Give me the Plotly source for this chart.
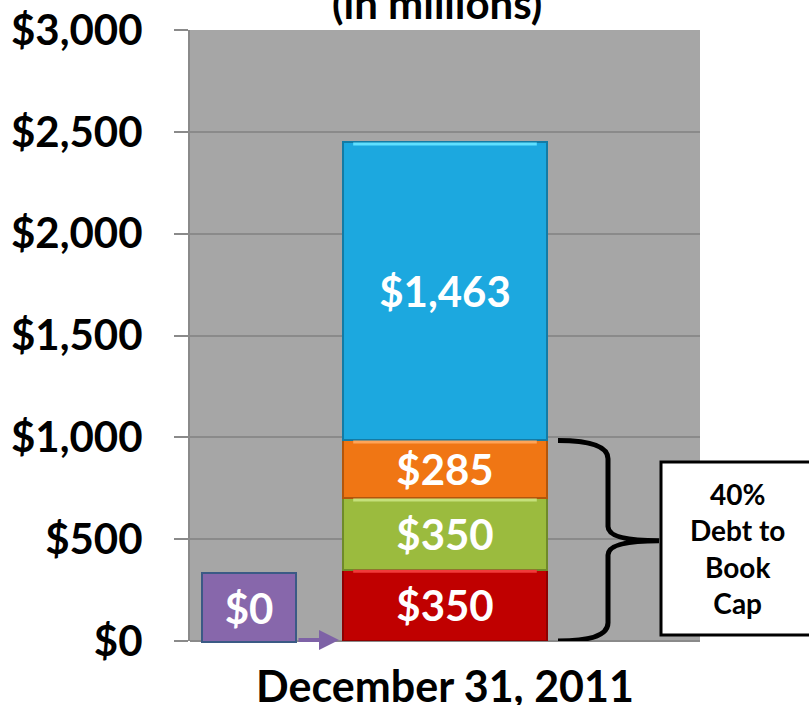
import plotly.graph_objects as go

# ---- data ----
category = ["December 31, 2011"]
segment_names = ["Red", "Green", "Orange", "Blue"]
segment_values = [350, 350, 285, 1463]
segment_colors = ["#c00000", "#9bbb3e", "#f07614", "#1ca8df"]
segment_lines = ["#8e0000", "#6f8a2a", "#b2560c", "#137ba5"]
segment_highlights = ["#f03a3a", "#c5e07a", "#ffa457", "#5fe0ff"]
y_tickvals = [0, 500, 1000, 1500, 2000, 2500, 3000]
y_ticktext = ["$0", "$500", "$1,000", "$1,500", "$2,000", "$2,500", "$3,000"]
callout_value = 0
bracket_note = "40%<br>Debt to<br>Book<br>Cap"
title_text = "(in millions)"

FONT = "Lato"
W, H = 809, 705
ML, MR, MT, MB = 190, 109, 30, 64
PW = W - ML - MR
PH = H - MT - MB


def px_x(p):
    return (p - ML) / PW


def px_y(p):
    return (H - MB - p) / PH


BAR_W = 0.4
fig = go.Figure()
for name, v, c, lc in zip(segment_names, segment_values, segment_colors, segment_lines):
    fig.add_trace(go.Bar(
        x=[0], y=[v], name=name, width=BAR_W,
        marker=dict(color=c, line=dict(color=lc, width=2)),
        texttemplate="$%{y:,.0f}", textposition="inside",
        insidetextanchor="middle",
        textfont=dict(family=FONT, size=42, color="white", weight=700),
        hoverinfo="skip",
    ))

shapes = []
# subtle bevel highlight on top edge of each segment
base = 0
for v, hc in zip(segment_values, segment_highlights):
    top = base + v
    shapes.append(dict(type="line", xref="x", yref="y", layer="above",
                       x0=-BAR_W / 2 + 0.02, x1=BAR_W / 2 - 0.02, y0=top - 8, y1=top - 8,
                       line=dict(color=hc, width=3)))
    base = top

debt_top = sum(segment_values[:3])

# bracket
yt, yb = debt_top, 0
ym = (yt + yb) / 2
xa, xb, xc = px_x(558), px_x(608), px_x(659)
path = (f"M {xa},{yt} Q {xb},{yt} {xb},{yt-90} L {xb},{ym+70} Q {xb},{ym} {xc},{ym} "
        f"Q {xb},{ym} {xb},{ym-70} L {xb},{yb+90} Q {xb},{yb} {xa},{yb}")
shapes.append(dict(type="path", path=path, xref="paper", yref="y",
                   line=dict(color="black", width=5)))
# text box
shapes.append(dict(type="rect", xref="paper", yref="paper",
                   x0=px_x(661), x1=px_x(830), y0=px_y(635), y1=px_y(462),
                   line=dict(color="black", width=3), fillcolor="white"))

annotations = [
    dict(text=bracket_note, xref="paper", yref="paper", x=px_x(737), y=px_y(548),
         showarrow=False, font=dict(family=FONT, size=28, color="black", weight=700),
         align="center", xanchor="center", yanchor="middle"),
    dict(text=f"${callout_value}", xref="paper", yref="paper",
         x=px_x(249), y=px_y(607.5), showarrow=False,
         width=92, height=67, borderpad=0, borderwidth=2,
         bgcolor="#8767ab", bordercolor="#3b5a85",
         font=dict(family=FONT, size=42, color="white", weight=700),
         valign="middle", xanchor="center", yanchor="middle"),
    dict(text="", xref="paper", yref="paper", x=px_x(339), y=px_y(640),
         ax=-42, ay=0, axref="pixel", ayref="pixel", showarrow=True,
         arrowhead=2, arrowsize=1, arrowwidth=4, arrowcolor="#7e62a6"),
    dict(text=title_text, xref="paper", yref="paper", x=px_x(437), y=px_y(30),
         showarrow=False, yanchor="bottom", xanchor="center",
         font=dict(family=FONT, size=42, color="black", weight=700)),
]

fig.update_layout(
    width=W, height=H, barmode="stack", showlegend=False,
    margin=dict(l=ML, r=MR, t=MT, b=MB, autoexpand=False),
    paper_bgcolor="white", plot_bgcolor="#a6a6a6",
    shapes=shapes, annotations=annotations,
    uniformtext=dict(minsize=42, mode="show"),
    xaxis=dict(range=[-0.5, 0.5], tickvals=[0], ticktext=category,
               showgrid=False, zeroline=False, showline=False, ticks="",
               ticklabelstandoff=17,
               tickfont=dict(family=FONT, size=43, color="black", weight=700)),
    yaxis=dict(range=[0, 3000], tickvals=y_tickvals, ticktext=y_ticktext,
               showgrid=True, gridcolor="#8a8a8a", gridwidth=1.5,
               zeroline=True, zerolinecolor="#8a8a8a", zerolinewidth=1.5,
               showline=True, linecolor="#8a8a8a", linewidth=2,
               ticks="outside", ticklen=14, tickcolor="#8a8a8a", tickwidth=1.5,
               ticklabelstandoff=23,
               tickfont=dict(family=FONT, size=42, color="black", weight=700)),
)

fig.write_html("out.html", config={"displayModeBar": False},
               post_script="document.body.style.margin='0';document.body.style.overflow='hidden';")
